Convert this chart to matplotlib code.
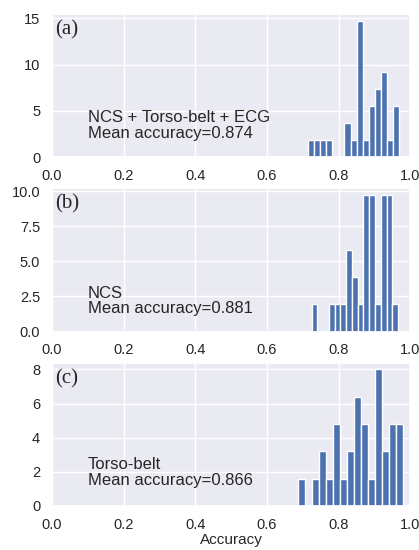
import matplotlib
matplotlib.use("Agg")
import matplotlib.pyplot as plt
import numpy as np
import seaborn as sns
from matplotlib.ticker import MultipleLocator, FormatStrFormatter

# bin ranges (15 bins each) and counts per bin
n_bins = 15
range_a = (0.715, 0.969)
counts_a = [1, 1, 1, 1, 0, 0, 2, 1, 8, 1, 3, 4, 5, 1, 3]
range_b = (0.725, 0.966)
counts_b = [1, 0, 0, 1, 1, 1, 3, 2, 1, 5, 5, 1, 5, 5, 1]
range_c = (0.688, 0.981)
counts_c = [1, 0, 1, 2, 1, 3, 1, 2, 4, 3, 1, 5, 2, 3, 3]

panel_labels = ["(a)", "(b)", "(c)"]
feature_names = ["NCS + Torso-belt + ECG", "NCS", "Torso-belt"]
mean_acc = [0.874, 0.881, 0.866]
text_y = [1.75, 1.1, 1.05]
y_steps = [5, 2.5, 2]
y_fmts = ["%d", "%.1f", "%d"]

sns.set_theme(style="darkgrid")
plt.rcParams["font.family"] = ["Liberation Sans", "DejaVu Sans"]

fig, axes = plt.subplots(3, 1, figsize=(4.19, 5.5), dpi=100)
fig.subplots_adjust(left=0.124, right=0.979, top=0.975, bottom=0.08,
                    hspace=0.217)

panels = [(range_a, counts_a), (range_b, counts_b), (range_c, counts_c)]
for i, (rng, counts) in enumerate(panels):
    ax = axes[i]
    edges = np.linspace(rng[0], rng[1], n_bins + 1)
    centers = (edges[:-1] + edges[1:]) / 2
    ax.hist(centers, bins=edges, weights=counts, density=True,
            color="#4C72B0", edgecolor="white", linewidth=1.0)
    ax.set_xlim(0, 1)
    ax.xaxis.set_major_locator(MultipleLocator(0.2))
    ax.yaxis.set_major_locator(MultipleLocator(y_steps[i]))
    ax.yaxis.set_major_formatter(FormatStrFormatter(y_fmts[i]))
    ax.tick_params(labelsize=10.5, pad=2.5)
    ax.text(0.01, 0.955, panel_labels[i], transform=ax.transAxes,
            family="Liberation Serif", fontsize=15, va="top", ha="left")
    ax.text(0.1, text_y[i],
            "%s\nMean accuracy=%.3f" % (feature_names[i], mean_acc[i]),
            fontsize=12, va="bottom", ha="left", linespacing=1.05)

axes[2].set_xlabel("Accuracy", fontsize=11, labelpad=1)

fig.savefig("out.png")
